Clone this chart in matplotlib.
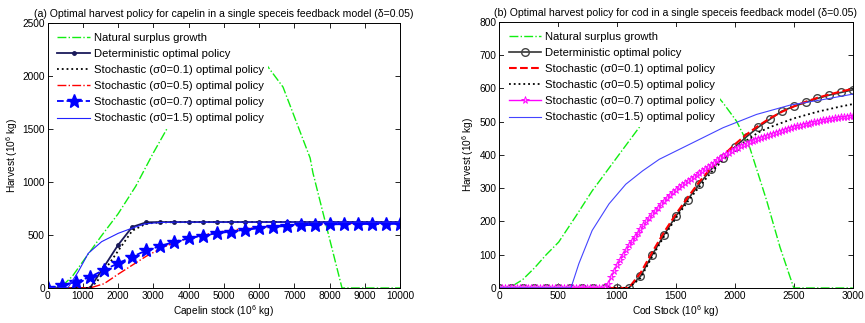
import numpy as np
import matplotlib
matplotlib.use("Agg")
import matplotlib.pyplot as plt

plt.rcParams['font.family'] = ['Liberation Sans', 'DejaVu Sans']
plt.rcParams['mathtext.fontset'] = 'custom'
plt.rcParams['mathtext.rm'] = 'Liberation Sans'
plt.rcParams['mathtext.it'] = 'Liberation Sans'

# ---------------- (a) Capelin ----------------
cap_growth_x = [0, 400, 700, 1000, 1500, 2000, 2500, 3000, 3450, 4000, 4500, 5000, 5500, 6000, 6170, 6680, 7450, 7530, 8354, 10000]
cap_growth_y = [0, 15, 110, 250, 480, 700, 960, 1275, 1540, 1900, 2130, 2280, 2300, 2220, 2123, 1896, 1226, 1085, 0, 0]

cap_x400 = list(range(0, 10001, 400))
cap_det = [0, 0, 0, 0, 200, 406, 576, 620, 622, 622, 622, 622, 622, 622, 622, 622, 622, 622, 622, 622, 622, 622, 622, 622, 622, 622]
cap_s07 = [0, 25, 57, 104, 170, 233, 294, 355, 395, 437, 468, 494, 516, 532, 550, 563, 577, 585, 591, 596, 600, 602, 603, 604, 604, 605]
cap_s05 = [0, 0, 0, 0, 40, 130, 215, 300, 370, 430, 470, 500, 525, 545, 560, 573, 582, 590, 596, 600, 605, 607, 610, 612, 614, 615]

cap_s01_x = [0, 1200, 1400, 1600, 2000, 2400, 2800, 3200, 3600, 10000]
cap_s01_y = [0, 0, 60, 160, 350, 540, 608, 618, 621, 622]

cap_s15_x = [0, 500, 585, 869, 1152, 1532, 2004, 2384, 2762, 3200, 3600, 10000]
cap_s15_y = [0, 0, 7, 154, 327, 437, 516, 563, 605, 618, 621, 622]

# ---------------- (b) Cod ----------------
cod_growth_x = [0, 100, 200, 300, 400, 506, 650, 790, 1103, 1208, 1400, 1600, 1750, 1900, 2014, 2127, 2270, 2383, 2500, 3000]
cod_growth_y = [0, 3, 25, 60, 100, 138, 215, 292, 442, 492, 580, 630, 620, 557, 502, 422, 263, 123, 0, 0]

cod_x100 = list(range(0, 3001, 100))
cod_det = [0]*12 + [35, 100, 160, 216, 266, 313, 357, 392, 424, 455, 484, 508, 532, 546, 558, 570, 580, 588, 596]
cod_s01 = [0]*12 + [45, 108, 168, 222, 272, 320, 362, 398, 432, 462, 488, 511, 530, 546, 560, 572, 582, 591, 599]
cod_s05 = [0]*12 + [30, 95, 155, 210, 260, 305, 348, 385, 418, 444, 468, 484, 497, 510, 520, 530, 538, 546, 553]

cod_x25 = list(range(0, 3001, 25))
cod_s07 = [0]*37 + [12, 32, 50, 68, 84, 100, 114, 128, 141, 153, 165, 177, 189, 200, 211, 222, 232, 242, 252, 262,
                    271, 280, 288, 296, 303, 310, 316, 322, 328, 334, 340, 346, 352, 358, 364, 370, 377, 384, 390, 396,
                    402, 407, 412, 417, 422, 426, 430, 434, 438, 442, 446, 449, 452, 455, 458, 461, 464, 467, 470, 473,
                    476, 479, 482, 484, 486, 488, 490, 492, 494, 496, 498, 500, 502, 504, 506, 507, 509, 510, 512, 513,
                    514, 515, 516, 517]

cod_s15_x = [0, 610, 677, 790, 933, 1075, 1217, 1359, 1530, 1644, 1900, 2184, 2468, 2753, 3000]
cod_s15_y = [0, 0, 73, 173, 253, 312, 352, 387, 417, 437, 482, 522, 550, 567, 583]

labels = ['Natural surplus growth', 'Deterministic optimal policy',
          'Stochastic (σ0=0.1) optimal policy', 'Stochastic (σ0=0.5) optimal policy',
          'Stochastic (σ0=0.7) optimal policy', 'Stochastic (σ0=1.5) optimal policy']

fig = plt.figure(figsize=(8.65, 3.23), dpi=100)
ax1 = fig.add_axes([0.0551, 0.1084, 0.4073, 0.8204])
ax2 = fig.add_axes([0.5769, 0.1084, 0.4089, 0.8235])

GREEN = '#11ee11'

# (a)
ax1.plot(cap_growth_x, cap_growth_y, color=GREEN, ls='-.', lw=1.0, label=labels[0])
ax1.plot(cap_x400, cap_det, color='#1a1a5a', ls='-', lw=1.3, marker='.', ms=5, label=labels[1])
ax1.plot(cap_s01_x, cap_s01_y, color='black', ls=':', lw=1.3, label=labels[2])
ax1.plot(cap_x400, cap_s05, color='red', ls='-.', lw=1.0, label=labels[3])
ax1.plot(cap_x400, cap_s07, color='#0000ff', ls='--', lw=1.3, marker='*', ms=10, label=labels[4])
ax1.plot(cap_s15_x, cap_s15_y, color='#2222ff', ls='-', lw=0.8, label=labels[5])
ax1.set_xlim(0, 10000)
ax1.set_ylim(0, 2500)
ax1.set_xticks(range(0, 10001, 1000))
ax1.set_yticks(range(0, 2501, 500))
ax1.set_xlabel('Capelin stock (10$^6$ kg)', fontsize=7.3, labelpad=2)
ax1.set_ylabel('Harvest (10$^6$ kg)', fontsize=7.3, labelpad=2)
ax1.set_title('(a) Optimal harvest policy for capelin in a single speceis feedback model (δ=0.05)', fontsize=7.6, pad=4)

# (b)
ax2.plot(cod_growth_x, cod_growth_y, color=GREEN, ls='-.', lw=1.0, label=labels[0])
ax2.plot(cod_x100, cod_det, color='#333333', ls='-', lw=1.2, marker='o', ms=5.5, mfc='none', mec='#444444', mew=1.0, label=labels[1])
ax2.plot(cod_x100, cod_s01, color='red', ls='--', lw=1.5, label=labels[2])
ax2.plot(cod_x100, cod_s05, color='black', ls=':', lw=1.3, label=labels[3])
ax2.plot(cod_x25, cod_s07, color='#ff00ff', ls='-', lw=1.0, marker='*', ms=5.5, mfc='#ffaaff', mec='#ff00ff', mew=0.6, label=labels[4])
ax2.plot(cod_s15_x, cod_s15_y, color='#4444ff', ls='-', lw=0.8, label=labels[5])
ax2.set_xlim(0, 3000)
ax2.set_ylim(0, 800)
ax2.set_xticks(range(0, 3001, 500))
ax2.set_yticks(range(0, 801, 100))
ax2.set_xlabel('Cod Stock (10$^6$ kg)', fontsize=7.3, labelpad=2)
ax2.set_ylabel('Harvest (10$^6$ kg)', fontsize=7.3, labelpad=2)
ax2.set_title('(b) Optimal harvest policy for cod in a single speceis feedback model (δ=0.05)', fontsize=7.6, pad=4)

for ax in (ax1, ax2):
    ax.tick_params(direction='in', top=True, right=True, labelsize=7.3, length=3.5, width=0.6, pad=2)
    for sp in ax.spines.values():
        sp.set_linewidth(0.7)
    leg = ax.legend(loc='upper left', fontsize=8.1, handlelength=2.9, labelspacing=0.55,
                    frameon=True, framealpha=1, facecolor='white', edgecolor='none',
                    borderaxespad=0.45, borderpad=0.4, handletextpad=0.35, fancybox=False)
    leg.set_zorder(5)

fig.savefig('out.png', dpi=100)
